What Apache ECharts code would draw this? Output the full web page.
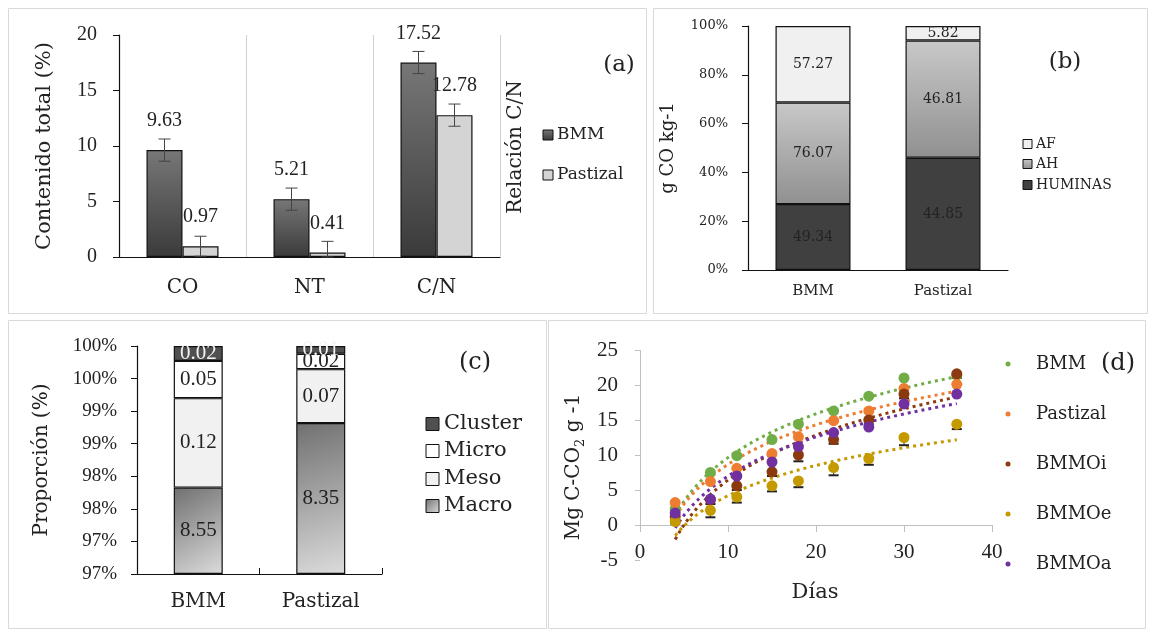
<!DOCTYPE html>
<html><head><meta charset="utf-8">
<script src="https://cdn.jsdelivr.net/npm/echarts@6/dist/echarts.min.js"></script>
<style>html,body{margin:0;padding:0;background:#fff}#c{width:1152px;height:632px}</style>
</head><body><div id="c"></div>
<script>
// ---------- DATA ----------
// (a)
const catsA = ['CO', 'NT', 'C/N'];
const bmmA = [9.63, 5.21, 17.52];
const pastA = [0.97, 0.41, 12.78];
const errBmmA = [1.0, 1.0, 1.0];
const errPastA = [0.9, 1.0, 1.0];
// (b)
const catsB = ['BMM', 'Pastizal'];
const huminas = [49.34, 44.85];
const ahB = [76.07, 46.81];
const afB = [57.27, 5.82];
const ticksB = ['0%', '20%', '40%', '60%', '80%', '100%'];
// (c)
const catsC = ['BMM', 'Pastizal'];
const macro = [8.55, 8.35];
const meso = [0.12, 0.07];
const micro = [0.05, 0.02];
const cluster = [0.02, 0.01];
const ticksC = ['97%', '97%', '98%', '98%', '99%', '99%', '100%', '100%'];
// (d)
const dias = [4, 8, 11, 15, 18, 22, 26, 30, 36];
const dBMM = [2.3, 7.5, 9.9, 12.2, 14.4, 16.3, 18.4, 21.0, 21.4];
const dPast = [3.2, 6.2, 8.1, 10.2, 12.6, 14.9, 16.3, 19.5, 20.1];
const dOi = [1.2, 3.6, 5.6, 7.6, 10.0, 12.2, 15.0, 18.7, 21.6];
const dOe = [0.5, 2.1, 4.0, 5.6, 6.3, 8.2, 9.5, 12.5, 14.4];
const dOa = [1.7, 3.7, 7.0, 9.0, 11.2, 13.2, 14.0, 17.3, 18.7];
const errOe = [0.3, 1.0, 0.8, 0.8, 0.9, 1.1, 0.9, 1.1, 0.7];
const errOi = [0.6, 0.6, 0.6, 0.6, 0.9, 0.6, 0.6, 0.6, 0.6];

// ---------- STYLE ----------
const FW = '"DejaVu Serif", serif';
const FN = '"Liberation Serif", serif';
const TXT = '#222';
const G = echarts.graphic.LinearGradient;
const gradBMM = () => new G(0, 0, 0, 1, [{offset: 0, color: '#777'}, {offset: 1, color: '#3a3a3a'}]);
const gradAH = () => new G(0, 0, 0, 1, [{offset: 0, color: '#c8c8c8'}, {offset: 1, color: '#909090'}]);
const gradMacro = () => new G(0, 0, 1, 1, [{offset: 0, color: '#707070'}, {offset: 1, color: '#dcdcdc'}]);

const pctOf = (arrs) => arrs.map(a => a.map((v, i) => v / arrs.reduce((s, b) => s + b[i], 0) * 100));
const [pH, pAH, pAF] = pctOf([huminas, ahB, afB]);
const [pMa, pMe, pMi, pCl] = pctOf([macro, meso, micro, cluster]);

function logFit(xs, ys) {
  const lx = xs.map(Math.log), n = xs.length;
  const mx = lx.reduce((a, b) => a + b, 0) / n, my = ys.reduce((a, b) => a + b, 0) / n;
  let sxy = 0, sxx = 0;
  for (let i = 0; i < n; i++) { sxy += (lx[i] - mx) * (ys[i] - my); sxx += (lx[i] - mx) ** 2; }
  const a = sxy / sxx, b = my - a * mx;
  const out = [];
  for (let x = xs[0]; x <= xs[n - 1] + 1e-9; x += 0.5) out.push([x, a * Math.log(x) + b]);
  return out;
}

function errSeriesA(vals, errs, off) {
  return {
    type: 'custom', xAxisIndex: 0, yAxisIndex: 0, z: 5, silent: true,
    data: vals.map((v, i) => [i, v, errs[i]]),
    renderItem: (p, api) => {
      const i = api.value(0), v = api.value(1), e = api.value(2);
      const hi = api.coord([i, v + e]), lo = api.coord([i, Math.max(0, v - e)]);
      const x = hi[0] + off, st = {stroke: '#444', lineWidth: 1};
      return {type: 'group', children: [
        {type: 'line', shape: {x1: x, y1: hi[1], x2: x, y2: lo[1]}, style: st},
        {type: 'line', shape: {x1: x - 6, y1: hi[1], x2: x + 6, y2: hi[1]}, style: st},
        {type: 'line', shape: {x1: x - 6, y1: lo[1], x2: x + 6, y2: lo[1]}, style: st}
      ]};
    }
  };
}
function errSeriesD(vals, errs) {
  return {
    type: 'custom', xAxisIndex: 3, yAxisIndex: 3, z: 2, silent: true,
    data: vals.map((v, i) => [dias[i], v, errs[i]]),
    renderItem: (p, api) => {
      const x = api.value(0), v = api.value(1), e = api.value(2);
      const a = api.coord([x, v]), b = api.coord([x, v - e]);
      return {type: 'group', children: [
        {type: 'line', shape: {x1: a[0], y1: a[1], x2: b[0], y2: b[1]}, style: {stroke: '#333', lineWidth: 1}},
        {type: 'line', shape: {x1: b[0] - 5, y1: b[1], x2: b[0] + 5, y2: b[1]}, style: {stroke: '#222', lineWidth: 2}}
      ]};
    }
  };
}

const barLblA = {show: true, position: 'top', distance: 19, color: TXT, fontFamily: FN, fontSize: 20};
const lblB = (arr, color) => ({show: true, position: 'inside', color: color || TXT, fontFamily: FW, fontSize: 14,
  formatter: p => arr[p.dataIndex].toFixed(2)});
const lblC = (arr, color) => ({show: true, position: 'inside', color: color || TXT, fontFamily: FN, fontSize: 21,
  formatter: p => arr[p.dataIndex].toFixed(2)});
const bdr = {borderColor: '#111', borderWidth: 1.2};

const dSeries = [
  ['BMM', dBMM, '#70ad47'], ['Pastizal', dPast, '#ed7d31'], ['BMMOi', dOi, '#8b3a10'],
  ['BMMOe', dOe, '#c49a00'], ['BMMOa', dOa, '#7030a0']
];

const series = [
  // (a)
  {name: 'BMM', type: 'bar', xAxisIndex: 0, yAxisIndex: 0, data: bmmA, barWidth: 36, barGap: '0%',
   itemStyle: Object.assign({color: gradBMM()}, bdr), label: barLblA},
  {name: 'Pastizal', type: 'bar', xAxisIndex: 0, yAxisIndex: 0, data: pastA, barWidth: 36, barGap: '0%',
   itemStyle: Object.assign({color: '#d4d4d4'}, bdr), label: barLblA},
  errSeriesA(bmmA, errBmmA, -18),
  errSeriesA(pastA, errPastA, 18),
  // (b)
  {name: 'HUMINAS', type: 'bar', stack: 'b', xAxisIndex: 1, yAxisIndex: 1, data: pH, barWidth: 75,
   itemStyle: Object.assign({color: '#404040'}, bdr), label: lblB(huminas)},
  {name: 'AH', type: 'bar', stack: 'b', xAxisIndex: 1, yAxisIndex: 1, data: pAH, barWidth: 75,
   itemStyle: Object.assign({color: gradAH()}, bdr), label: lblB(ahB)},
  {name: 'AF', type: 'bar', stack: 'b', xAxisIndex: 1, yAxisIndex: 1, data: pAF, barWidth: 75,
   itemStyle: Object.assign({color: '#f0f0f0'}, bdr), label: lblB(afB)},
  // (c)
  {name: 'Macro', type: 'bar', stack: 'c', xAxisIndex: 2, yAxisIndex: 2, data: pMa, barWidth: 49, clip: true,
   itemStyle: Object.assign({color: gradMacro()}, bdr), label: lblC(macro)},
  {name: 'Meso', type: 'bar', stack: 'c', xAxisIndex: 2, yAxisIndex: 2, data: pMe, barWidth: 49, clip: true,
   itemStyle: Object.assign({color: '#f1f1f1'}, bdr), label: lblC(meso)},
  {name: 'Micro', type: 'bar', stack: 'c', xAxisIndex: 2, yAxisIndex: 2, data: pMi, barWidth: 49, clip: true,
   itemStyle: Object.assign({color: '#ffffff'}, bdr), label: lblC(micro)},
  {name: 'Cluster', type: 'bar', stack: 'c', xAxisIndex: 2, yAxisIndex: 2, data: pCl, barWidth: 49, clip: true,
   itemStyle: Object.assign({color: '#505050'}, bdr), label: lblC(cluster, '#f2f2f2')},
  // (d) error bars
  errSeriesD(dOe, errOe),
  errSeriesD(dOi, errOi)
];
dSeries.forEach(([name, arr, col], k) => {
  const tr = {name: name + ' tendencia', type: 'line', xAxisIndex: 3, yAxisIndex: 3, data: logFit(dias, arr),
    showSymbol: false, symbol: 'none', silent: true, z: 1,
    lineStyle: {color: col, width: 3, type: [3, 4]}};
  if (k === 0) tr.markLine = {silent: true, symbol: 'none', label: {show: false},
    lineStyle: {color: '#bfbfbf', type: 'solid', width: 1},
    data: [[{coord: [0, 0]}, {coord: [0, 25]}]]};
  series.push(tr);
});
dSeries.forEach(([name, arr, col]) => {
  series.push({name, type: 'scatter', xAxisIndex: 3, yAxisIndex: 3, z: 3, symbolSize: 11,
    data: dias.map((x, i) => [x, arr[i]]), itemStyle: {color: col, opacity: 1}});
});

// ---------- GRAPHICS (frames, titles, legends) ----------
const gtext = (text, x, y, font, size, extra) => Object.assign({type: 'text', x, y, silent: true,
  style: {text, fill: TXT, fontFamily: font, fontSize: size, align: 'center', verticalAlign: 'middle',
    textAlign: 'center', textVerticalAlign: 'middle'}}, extra || {});
const gleft = (text, x, y, font, size) => ({type: 'text', x, y, silent: true,
  style: {text, fill: TXT, fontFamily: font, fontSize: size, align: 'left', verticalAlign: 'middle',
    textAlign: 'left', textVerticalAlign: 'middle'}});
const frame = (x, y, w, h) => ({type: 'rect', silent: true, shape: {x, y, width: w, height: h},
  style: {fill: 'none', stroke: '#d9d9d9', lineWidth: 1}});
const sq = (x, y, s, fill) => ({type: 'rect', silent: true, shape: {x, y: y - s / 2, width: s, height: s},
  style: {fill, stroke: '#111', lineWidth: 1}});
const dot = (x, y, col) => ({type: 'circle', silent: true, shape: {cx: x, cy: y, r: 2.5}, style: {fill: col}});

const graphic = [
  frame(8.5, 8.5, 638, 305), frame(653.5, 8.5, 494, 305),
  frame(8.5, 320.5, 538, 308), frame(548.5, 320.5, 597, 308),
  gtext('(a)', 619, 65, FW, 23), gtext('(b)', 1065, 62, FW, 23),
  gtext('(c)', 475, 363, FW, 24), gtext('(d)', 1118, 364, FW, 24),
  gtext('Relación C/N', 516, 147, FW, 20, {rotation: Math.PI / 2}),
  gtext('Días', 815, 593, FW, 21),
  {type: 'text', x: 574, y: 467, rotation: Math.PI / 2, silent: true,
   style: {text: '{n|Mg C-CO}{s|2}{n| g -1}', align: 'center', verticalAlign: 'middle',
     textAlign: 'center', textVerticalAlign: 'middle', fill: TXT,
     rich: {n: {fontFamily: FW, fontSize: 20, lineHeight: 26, fill: TXT},
            s: {fontFamily: FW, fontSize: 13, lineHeight: 13, verticalAlign: 'bottom', fill: TXT}}}},
  // legend (a)
  sq(543, 135, 10, gradBMM()), gleft('BMM', 557, 135, FW, 17),
  sq(543, 175, 10, '#d4d4d4'), gleft('Pastizal', 557, 175, FW, 17),
  // legend (b)
  sq(1023, 144, 9, '#f0f0f0'), gleft('AF', 1036, 144, FW, 14),
  sq(1023, 164, 9, gradAH()), gleft('AH', 1036, 164, FW, 14),
  sq(1023, 185, 9, '#404040'), gleft('HUMINAS', 1036, 185, FW, 14),
  // legend (c)
  sq(426, 424, 13, '#505050'), gleft('Cluster', 444, 424, FW, 21),
  sq(426, 451, 13, '#ffffff'), gleft('Micro', 444, 451, FW, 21),
  sq(426, 479, 13, '#f1f1f1'), gleft('Meso', 444, 479, FW, 21),
  sq(426, 506, 13, gradMacro()), gleft('Macro', 444, 506, FW, 21)
];
dSeries.forEach(([name, arr, col], k) => {
  const y = 364 + k * 50;
  graphic.push(dot(1008, y, col), gleft(name, 1036, y, FW, 18));
});

// ---------- AXES ----------
const axisBlack = {lineStyle: {color: '#111', width: 1.2}};
const option = {
  animation: false,
  backgroundColor: '#fff',
  grid: [
    {left: 119, top: 35, width: 381, height: 222, containLabel: false},
    {left: 748, top: 26, width: 260, height: 244, containLabel: false},
    {left: 137, top: 346, width: 245, height: 228, containLabel: false},
    {left: 640, top: 350, width: 352, height: 210, containLabel: false}
  ],
  xAxis: [
    {type: 'category', gridIndex: 0, data: catsA, axisLine: axisBlack, axisTick: {show: false},
     splitLine: {show: true, lineStyle: {color: '#d0d0d0', width: 1}},
     axisLabel: {color: TXT, fontFamily: FW, fontSize: 20, margin: 21}},
    {type: 'category', gridIndex: 1, data: catsB, axisLine: axisBlack, axisTick: {show: false},
     axisLabel: {color: TXT, fontFamily: FW, fontSize: 15, margin: 14}},
    {type: 'category', gridIndex: 2, data: catsC, axisLine: axisBlack,
     axisTick: {show: true, inside: true, length: 6, lineStyle: {color: '#111'}},
     axisLabel: {color: TXT, fontFamily: FW, fontSize: 20, margin: 18}},
    {type: 'value', gridIndex: 3, min: 0, max: 40, interval: 10,
     axisLine: {onZero: true, lineStyle: {color: '#bfbfbf', width: 1}},
     axisTick: {show: true, length: 7, lineStyle: {color: '#bfbfbf'}},
     splitLine: {show: false},
     axisLabel: {color: TXT, fontFamily: FN, fontSize: 21, margin: -18}}
  ],
  yAxis: [
    {type: 'value', gridIndex: 0, min: 0, max: 20, interval: 5, axisLine: Object.assign({show: true}, axisBlack),
     axisTick: {show: true, length: 6, lineStyle: {color: '#111'}}, splitLine: {show: false},
     axisLabel: {color: TXT, fontFamily: FN, fontSize: 20, margin: 22},
     name: 'Contenido total (%)', nameLocation: 'middle', nameGap: 64, nameRotate: 90,
     nameTextStyle: {color: TXT, fontFamily: FW, fontSize: 21}},
    {type: 'value', gridIndex: 1, min: 0, max: 100, interval: 20, axisLine: Object.assign({show: true}, axisBlack),
     axisTick: {show: true, length: 6, lineStyle: {color: '#111'}}, splitLine: {show: false},
     axisLabel: {color: TXT, fontFamily: FW, fontSize: 13, margin: 20, formatter: (v, i) => ticksB[i]},
     name: 'g CO kg-1', nameLocation: 'middle', nameGap: 71, nameRotate: 90,
     nameTextStyle: {color: TXT, fontFamily: FW, fontSize: 18}},
    {type: 'value', gridIndex: 2, min: 96.5, max: 100, interval: 0.5, startValue: 96.5,
     axisLine: Object.assign({show: true}, axisBlack),
     axisTick: {show: true, length: 6, lineStyle: {color: '#111'}}, splitLine: {show: false},
     axisLabel: {color: TXT, fontFamily: FN, fontSize: 19, margin: 20, formatter: (v, i) => ticksC[i]},
     name: 'Proporción (%)', nameLocation: 'middle', nameGap: 85, nameRotate: 90,
     nameTextStyle: {color: TXT, fontFamily: FW, fontSize: 20}},
    {type: 'value', gridIndex: 3, min: -5, max: 25, interval: 5,
     axisLine: {show: false}, axisTick: {show: true, length: 5, lineStyle: {color: '#bfbfbf'}},
     splitLine: {show: false},
     axisLabel: {color: TXT, fontFamily: FN, fontSize: 21, margin: 22}}
  ],
  graphic,
  series
};
const chart = echarts.init(document.getElementById('c'), null, {renderer: 'canvas'});
chart.setOption(option);
</script></body></html>
